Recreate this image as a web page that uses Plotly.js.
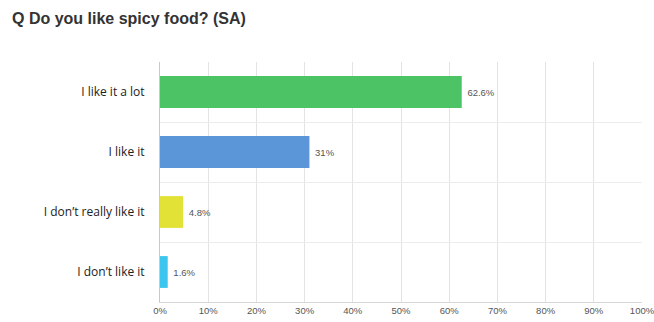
<!DOCTYPE html>
<html>
<head>
<meta charset="utf-8">
<script src="https://cdn.plot.ly/plotly-3.0.1.min.js"></script>
<style>html,body{margin:0;padding:0;background:#fff;}#chart{width:654px;height:322px;}</style>
</head>
<body>
<div id="chart"></div>
<script>
const categories = ["I like it a lot", "I like it", "I don\u2019t really like it", "I don\u2019t like it"];
const values = [62.6, 31, 4.8, 1.6];
const barColors = ["#4cc466", "#5b96d9", "#e2e236", "#3cc5ee"];
const xTickVals = [0, 10, 20, 30, 40, 50, 60, 70, 80, 90, 100];
const xTickLabels = ["0%", "10%", "20%", "30%", "40%", "50%", "60%", "70%", "80%", "90%", "100%"];

const trace = {
  type: "bar",
  orientation: "h",
  y: categories,
  x: values,
  marker: {color: barColors},
  width: 0.53,
  text: values.map(v => "\u00a0" + v + "%"),
  textposition: "outside",
  cliponaxis: false,
  textfont: {family: "Arial, Liberation Sans, sans-serif", size: 9.5, color: "#555"},
  hoverinfo: "none"
};

const layout = {
  width: 654, height: 322,
  margin: {l: 160, r: 12, t: 62, b: 20, pad: 0},
  paper_bgcolor: "#fff", plot_bgcolor: "#fff",
  showlegend: false,
  title: {
    text: "<b>Q Do you like spicy food? (SA)</b>",
    x: 0, xref: "container", xanchor: "left",
    y: 1, yref: "container", yanchor: "top",
    pad: {t: 13, l: 12},
    font: {family: "Arial, Liberation Sans, sans-serif", size: 16, color: "#333"}
  },
  xaxis: {
    range: [0, 100],
    tickvals: xTickVals,
    ticktext: xTickLabels,
    ticklabeloverflow: "allow",
    showgrid: true, gridcolor: "#e3e3e3", gridwidth: 1,
    zeroline: false,
    showline: true, linecolor: "#d6d6d6",
    ticks: "", tickfont: {family: "Arial, Liberation Sans, sans-serif", size: 9.5, color: "#555"},
    fixedrange: true
  },
  yaxis: {
    type: "category",
    autorange: "reversed",
    tickson: "boundaries",
    showgrid: true, gridcolor: "#ececec",
    showline: true, linecolor: "#c8c8c8", mirror: false,
    ticks: "", ticklen: 0,
    ticklabelstandoff: 12,
    tickfont: {family: "Open Sans, Liberation Sans, sans-serif", size: 12, color: "#222"},
    fixedrange: true
  },
  bargap: 0.47
};

Plotly.newPlot("chart", [trace], layout, {displayModeBar: false, staticPlot: true});
</script>
</body>
</html>
